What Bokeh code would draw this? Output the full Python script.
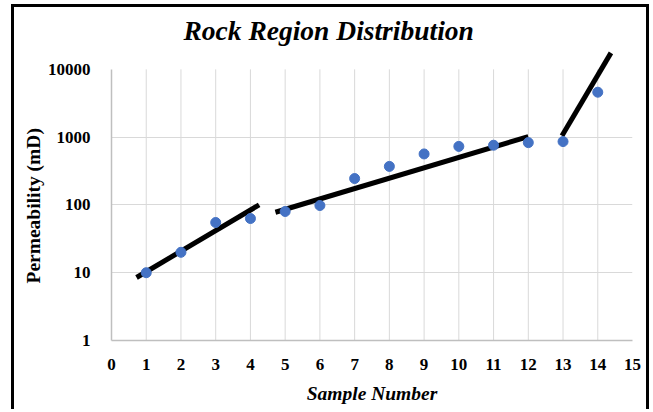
from bokeh.plotting import figure
from bokeh.models import FixedTicker, PrintfTickFormatter, Range1d, Title
from bokeh.embed import file_html
from bokeh.resources import INLINE

# data
samples = [1, 2, 3, 4, 5, 6, 7, 8, 9, 10, 11, 12, 13, 14]
permeability = [10, 20, 55, 63, 80, 98, 245, 370, 565, 730, 760, 830, 860, 4600]

trend_x = [[0.72, 4.25], [4.72, 12.0], [12.97, 14.38]]
trend_y = [[8.5, 100], [78, 1020], [1050, 17500]]

x_ticks = list(range(0, 16))
y_ticks = [1, 10, 100, 1000, 10000]
grid_x = list(range(1, 15))
grid_y = [10, 100, 1000]

FONT = "Liberation Serif"

p = figure(width=638, height=405, output_backend="svg", toolbar_location=None,
           y_axis_type="log",
           x_range=Range1d(0, 15), y_range=Range1d(1, 20300),
           min_border_left=97, min_border_right=20, min_border_top=41,
           min_border_bottom=72)
p.margin = (4, 0, 0, 11)
p.styles = {"border-left": "3px solid black", "border-right": "3px solid black",
            "border-top": "3px solid black"}
p.outline_line_color = None
p.background_fill_color = "white"
p.border_fill_color = "white"

# grid
p.xgrid.visible = False
p.ygrid.ticker = FixedTicker(ticks=grid_y, minor_ticks=[])
p.ygrid.grid_line_color = "#d9d9d9"
p.ygrid.grid_line_width = 1
p.segment(x0=grid_x, y0=[1] * len(grid_x), x1=grid_x, y1=[10000] * len(grid_x),
          line_color="#d9d9d9", line_width=1)

# axes
for ax in (p.xaxis[0], p.yaxis[0]):
    ax.axis_line_color = "#bfbfbf"
    ax.axis_line_width = 1.5
    ax.major_tick_line_color = None
    ax.minor_tick_line_color = None
    ax.major_label_text_font = FONT
    ax.major_label_text_font_style = "bold"
    ax.major_label_text_font_size = "17px"
    ax.major_label_text_color = "black"
    ax.axis_label_text_font = FONT
    ax.axis_label_text_font_size = "19.5px"
    ax.axis_label_text_color = "black"

p.xaxis.ticker = FixedTicker(ticks=x_ticks, minor_ticks=[])
p.xaxis.major_label_standoff = 12
p.xaxis.axis_label = "Sample Number"
p.xaxis.axis_label_text_font_style = "bold italic"
p.xaxis.axis_label_standoff = 10

p.yaxis.ticker = FixedTicker(ticks=y_ticks, minor_ticks=[])
p.yaxis.formatter = PrintfTickFormatter(format="%d")
p.yaxis.bounds = (1, 10000)
p.yaxis.major_label_standoff = 15

# y axis title
p.add_layout(Title(text="Permeability (mD)", align="left", offset=57,
                   vertical_align="middle", standoff=0,
                   text_font=FONT, text_font_style="bold", text_font_size="19.5px",
                   text_color="black"), "left")

# trend lines
p.multi_line(xs=trend_x, ys=trend_y, line_color="black", line_width=5)

# points
p.scatter(samples, permeability, size=10, fill_color="#4472C4", line_color="#4472C4")

# chart title
p.title.text = "Rock Region Distribution"
p.title.align = "left"
p.title.offset = 72
p.title.standoff = 6
p.title.text_font = FONT
p.title.text_font_style = "bold italic"
p.title.text_font_size = "27.5px"
p.title.text_color = "black"

open("out.html", "w").write(file_html(p, INLINE))
